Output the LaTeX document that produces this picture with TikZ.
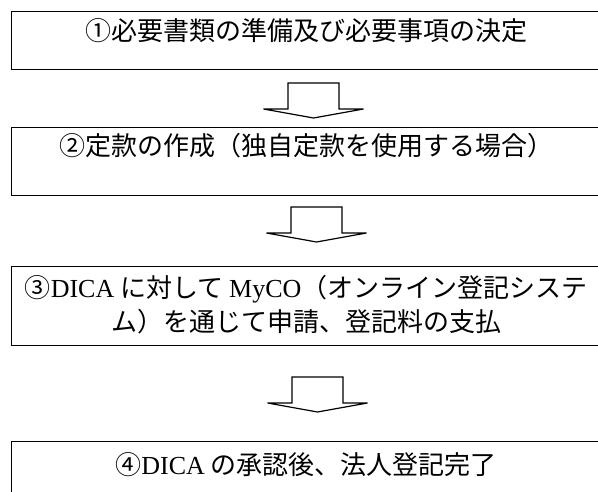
\documentclass[tikz,border=0pt]{standalone}
\usepackage{fontspec}
\setmainfont{Noto Sans CJK JP}
\newfontfamily\latinserif{Liberation Serif}
\tikzset{
  etape/.style={rectangle, draw=black, line width=1.2pt, anchor=north west,
    minimum width=589pt, inner xsep=0pt, inner ysep=0pt, align=center,
    font=\fontsize{26pt}{34pt}\selectfont},
  contour/.style={draw=black, line width=1.2pt, fill=white, line join=miter},
  pics/flechebloc/.style={code={
    \draw[contour] (-25.5,0) -- (-25.5,-26) -- (-50,-26) -- (0,-35)
      -- (50,-26) -- (25.5,-26) -- (25.5,0) -- cycle;}}
}
\begin{document}
\begin{tikzpicture}[x=1pt, y=1pt]
  \useasboundingbox (0,0) rectangle (598,-492);
  \node[etape, text height=29pt, text depth=29pt] (etape1) at (11,-11)
    {①必要書類の準備及び必要事項の決定};
  \node[etape, text height=28pt, text depth=40pt] (etape2) at (11,-127)
    {②定款の作成（独自定款を使用する場合）};
  \node[etape, text height=65pt, text depth=14pt] (etape3) at (11,-266)
    {③{\latinserif DICA} に対して {\latinserif MyCO}（オンライン登記システ\\ム）を通じて申請、登記料の支払};
  \node[etape, text height=33pt, text depth=27pt] (etape4) at (11,-441)
    {④{\latinserif DICA} の承認後、法人登記完了};

  % fleches entre les etapes
  \pic (fleche1) at (313.5,-83) {flechebloc};
  \pic (fleche2) at (316.5,-207) {flechebloc};
  \pic (fleche3) at (317.5,-377) {flechebloc};
\end{tikzpicture}
\end{document}
